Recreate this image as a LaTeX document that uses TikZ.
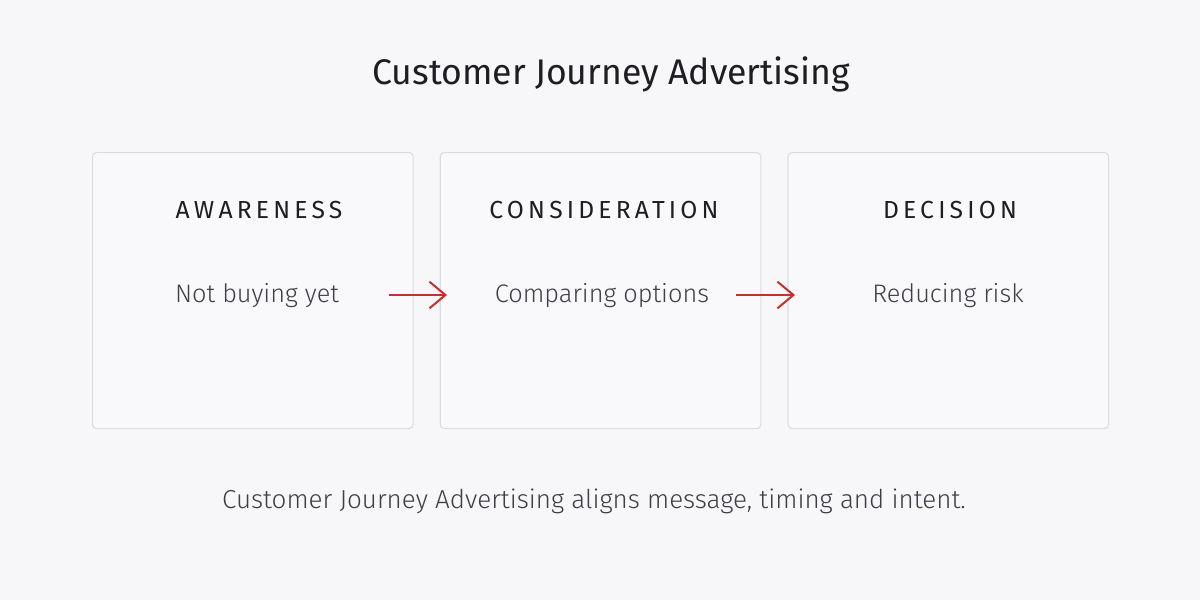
\documentclass[tikz,border=0pt]{standalone}
\usepackage{fontspec}
\setmainfont{Fira Sans Light}
\newfontfamily\titlefont{Fira Sans}
\newfontfamily\stagefont[LetterSpace=17]{Fira Sans}
\usetikzlibrary{positioning,arrows.meta}

\definecolor{pagebg}{HTML}{F7F7F9}
\definecolor{cardbg}{HTML}{F9F9FB}
\definecolor{cardline}{HTML}{DCDCE0}
\definecolor{stepred}{HTML}{C4302B}
\definecolor{inkdark}{HTML}{1E1E22}
\definecolor{inkgrey}{HTML}{3E3E44}

\begin{document}
\begin{tikzpicture}[x=0.75pt,y=-0.75pt,node distance=19.6pt]
  \fill[pagebg] (0,0) rectangle (1200,600);

  \node[font=\titlefont\fontsize{26.7}{32}\selectfont,text=inkdark,anchor=base] (title) at (611,84) {Customer Journey Advertising};

  \node[rectangle,rounded corners=3pt,draw=cardline,fill=cardbg,line width=0.8pt,
        minimum width=240.4pt,minimum height=207pt,anchor=north west] (aware) at (92,152) {};
  \node[rectangle,rounded corners=3pt,draw=cardline,fill=cardbg,line width=0.8pt,
        minimum width=240.4pt,minimum height=207pt,right=of aware] (consider) {};
  \node[rectangle,rounded corners=3pt,draw=cardline,fill=cardbg,line width=0.8pt,
        minimum width=240.4pt,minimum height=207pt,right=of consider] (decide) {};

  \node[font=\stagefont\fontsize{18.5}{22}\selectfont,text=inkdark,anchor=base] (awarehead) at (259,218) {AWARENESS};
  \node[font=\stagefont\fontsize{18.5}{22}\selectfont,text=inkdark,anchor=base] (considerhead) at (604,218) {CONSIDERATION};
  \node[font=\stagefont\fontsize{18.5}{22}\selectfont,text=inkdark,anchor=base] (decidehead) at (950,218) {DECISION};

  \node[font=\fontsize{19}{23}\selectfont,text=inkgrey,anchor=base] (awaretext) at (257,302) {Not buying yet};
  \node[font=\fontsize{19}{23}\selectfont,text=inkgrey,anchor=base] (considertext) at (602,302) {Comparing options};
  \node[font=\fontsize{19}{23}\selectfont,text=inkgrey,anchor=base] (decidetext) at (948,302) {Reducing risk};

  \coordinate (arrowa) at (389,295);
  \coordinate (arrowb) at (447,295);
  \coordinate (arrowc) at (736,295);
  \coordinate (arrowd) at (795,295);
  \draw[-{Straight Barb[length=12pt,width=20pt]},line width=1.5pt,stepred] (arrowa) -- (arrowb);
  \draw[-{Straight Barb[length=12pt,width=20pt]},line width=1.5pt,stepred] (arrowc) -- (arrowd);

  \node[font=\fontsize{19.5}{23}\selectfont,text=inkgrey,anchor=base] (caption) at (594,508)
    {Customer Journey Advertising aligns message, timing and intent.};
\end{tikzpicture}
\end{document}
